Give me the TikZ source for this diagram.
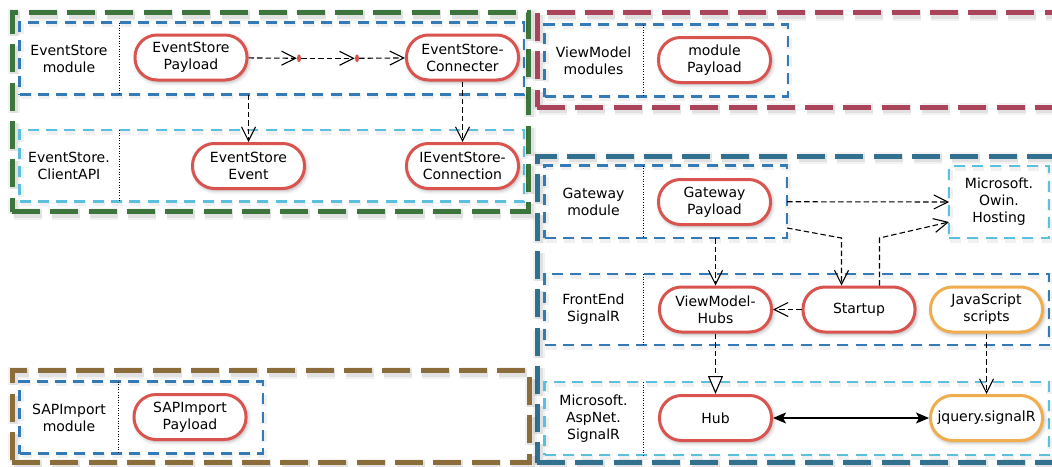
\documentclass[tikz,border=0pt]{standalone}
\usepackage{fontspec}
\setmainfont{DejaVu Sans}
\usetikzlibrary{arrows.meta,shadows.blur,fit,calc,shapes.geometric}

\definecolor{esgreen}{RGB}{60,118,61}
\definecolor{vmrose}{RGB}{169,68,90}
\definecolor{owteal}{RGB}{49,112,143}
\definecolor{sapbrown}{RGB}{138,109,59}
\definecolor{modblue}{RGB}{51,122,183}
\definecolor{libblue}{RGB}{91,192,222}
\definecolor{compred}{RGB}{217,83,79}
\definecolor{jsorange}{RGB}{240,173,78}

\begin{document}
\begin{tikzpicture}[x=1pt,y=-1pt,
  txt/.style={font=\fontsize{14pt}{17pt}\selectfont, align=center, text=black},
  frame/.style={draw=#1, line width=5pt, dash pattern=on 28pt off 10.3pt,
    inner sep=0pt, outer sep=0pt,
    preaction={draw=black, draw opacity=.05, line width=12pt,
      transform canvas={shift={(1.5pt,-2pt)}}},
    preaction={draw=black, draw opacity=.07, line width=8pt,
      transform canvas={shift={(1.5pt,-2pt)}}}},
  area/.style={draw=#1, line width=2.5pt, dash pattern=on 11pt off 7.3pt,
    inner sep=0pt, outer sep=0pt,
    preaction={draw=black, draw opacity=.06, line width=6pt,
      transform canvas={shift={(1pt,-1.5pt)}}}},
  sepline/.style={draw=black, line width=0.6pt, dotted},
  comp/.style={txt, draw=#1, line width=3pt, fill=white, rectangle,
    rounded corners=22pt, minimum width=112pt, minimum height=45pt,
    inner sep=0pt, outer sep=1.5pt,
    blur shadow={shadow xshift=1.5pt, shadow yshift=-2pt,
      shadow blur radius=4pt, shadow opacity=35}},
  comp/.default=compred,
  reddot/.style={ellipse, fill=compred, minimum width=4pt, minimum height=8pt,
    inner sep=0pt},
  dep/.style={draw=black, line width=1.1pt, dash pattern=on 5.5pt off 3pt,
    -{Straight Barb[length=14pt,width=14pt]}},
  realize/.style={draw=black, line width=1.1pt, dash pattern=on 5.5pt off 3pt,
    -{Triangle[open, length=18pt, width=15pt, fill=white]}},
  duplex/.style={draw=black, line width=1.3pt,
    {Stealth[length=13pt,width=11pt,inset=3pt]}-{Stealth[length=13pt,width=11pt,inset=3pt]}}
]
\useasboundingbox (0,0) rectangle (1052,466);
\clip (0,0) rectangle (1052,466);

% package frames
\node[frame=esgreen,  fit={(12,12.5) (528.5,211.5)}] (esframe) {};
\node[frame=vmrose,   fit={(537,12.5) (1064,107)}] (vmframe) {};
\node[frame=owteal,   fit={(537,156) (1064,462.5)}] (owframe) {};
\node[frame=sapbrown, fit={(12,370.5) (529,462.5)}] (sapframe) {};

% module / library areas
\node[area=modblue, fit={(19.5,22.5) (524,94.5)}]   (esmod) {};
\node[area=libblue, fit={(19.5,130) (524,201.5)}]   (esapi) {};
\node[area=modblue, fit={(544.5,24.5) (788,96.5)}]  (vmmod) {};
\node[area=modblue, fit={(544.5,165.5) (787,238)}]  (gwmod) {};
\node[area=libblue, fit={(949,166) (1049,238)}]     (owin) {};
\node[area=modblue, fit={(544.5,274) (1049,345)}]   (fesr) {};
\node[area=libblue, fit={(544.5,382) (1049,455)}]   (aspsr) {};
\node[area=modblue, fit={(19.5,381.5) (263,453.5)}] (sapmod) {};

% title column separators
\draw[sepline] ([xshift=99.5pt]esmod.north west)  -- ([xshift=99.5pt]esmod.south west);
\draw[sepline] ([xshift=99.5pt]esapi.north west)  -- ([xshift=99.5pt]esapi.south west);
\draw[sepline] ([xshift=98.5pt]vmmod.north west)  -- ([xshift=98.5pt]vmmod.south west);
\draw[sepline] ([xshift=98.5pt]gwmod.north west)  -- ([xshift=98.5pt]gwmod.south west);
\draw[sepline] ([xshift=98.5pt]fesr.north west)   -- ([xshift=98.5pt]fesr.south west);
\draw[sepline] ([xshift=98.5pt]aspsr.north west)  -- ([xshift=98.5pt]aspsr.south west);
\draw[sepline] ([xshift=99pt]sapmod.north west)   -- ([xshift=99pt]sapmod.south west);

% area titles
\node[txt] (tesmod) at (69,58.5)    {EventStore\\module};
\node[txt] (tesapi) at (69,166)     {EventStore.\\ClientAPI};
\node[txt] (tvmmod) at (593.5,60.5) {ViewModel\\modules};
\node[txt] (tgwmod) at (593.5,202)  {Gateway\\module};
\node[txt] (tfesr)  at (593.5,309.5){FrontEnd\\SignalR};
\node[txt] (taspsr) at (593.5,418.5){Microsoft.\\AspNet.\\SignalR};
\node[txt] (tsap)   at (69,417.5)   {SAPImport\\module};
\node[txt] (towin)  at (999,202)    {Microsoft.\\Owin.\\Hosting};

% components
\node[comp] (esp)  at (191,57.5)  {EventStore\\Payload};
\node[comp] (esc)  at (462.5,57.5){EventStore-\\Connecter};
\node[comp] (esev) at (248.5,166) {EventStore\\Event};
\node[comp] (iesc) at (462.5,166) {IEventStore-\\Connection};
\node[comp] (vmp)  at (714.5,60)  {module\\Payload};
\node[comp] (gwp)  at (714.5,202) {Gateway\\Payload};
\node[comp] (vmh)  at (715.5,309.5) {ViewModel-\\Hubs};
\node[comp] (stu)  at (859,309.5) {Startup};
\node[comp=jsorange] (js) at (986.5,309.5) {JavaScript\\scripts};
\node[comp] (hub)  at (715.5,418) {Hub};
\node[comp=jsorange] (jq) at (986.5,418) {jquery.signalR};
\node[comp] (sapp) at (190,417)   {SAPImport\\Payload};

% waypoints on the payload -> connecter chain
\node[reddot] (d1) at (299,58.3) {};
\node[reddot] (d2) at (357,58.3) {};

% dependencies
\draw[dep] (esp) -- (d1);
\draw[dep] (d1) -- (d2);
\draw[dep] (d2) -- (esc);
\draw[dep] (esmod.south -| esev.north) -- (esev.north);
\draw[dep] (esc.south) -- (iesc.north);

\draw[dep] (gwmod.east) -- (owin.west);
\coordinate (gwbend) at (841.5,238);
\draw[dep] ($(gwmod.south east)+(0,-10)$) -- (gwbend) -- (gwbend |- stu.north);
\coordinate (stbend) at (879.5,238);
\draw[dep] (stbend |- stu.north) -- (stbend) -- ($(owin.south west)+(0,-16)$);
\draw[dep] (gwmod.south -| vmh.north) -- (vmh.north);
\draw[dep] (stu) -- (vmh);
\draw[realize] (vmh) -- (hub);
\draw[dep] (js) -- (jq);
\draw[duplex] (hub) -- (jq);
\end{tikzpicture}
\end{document}
